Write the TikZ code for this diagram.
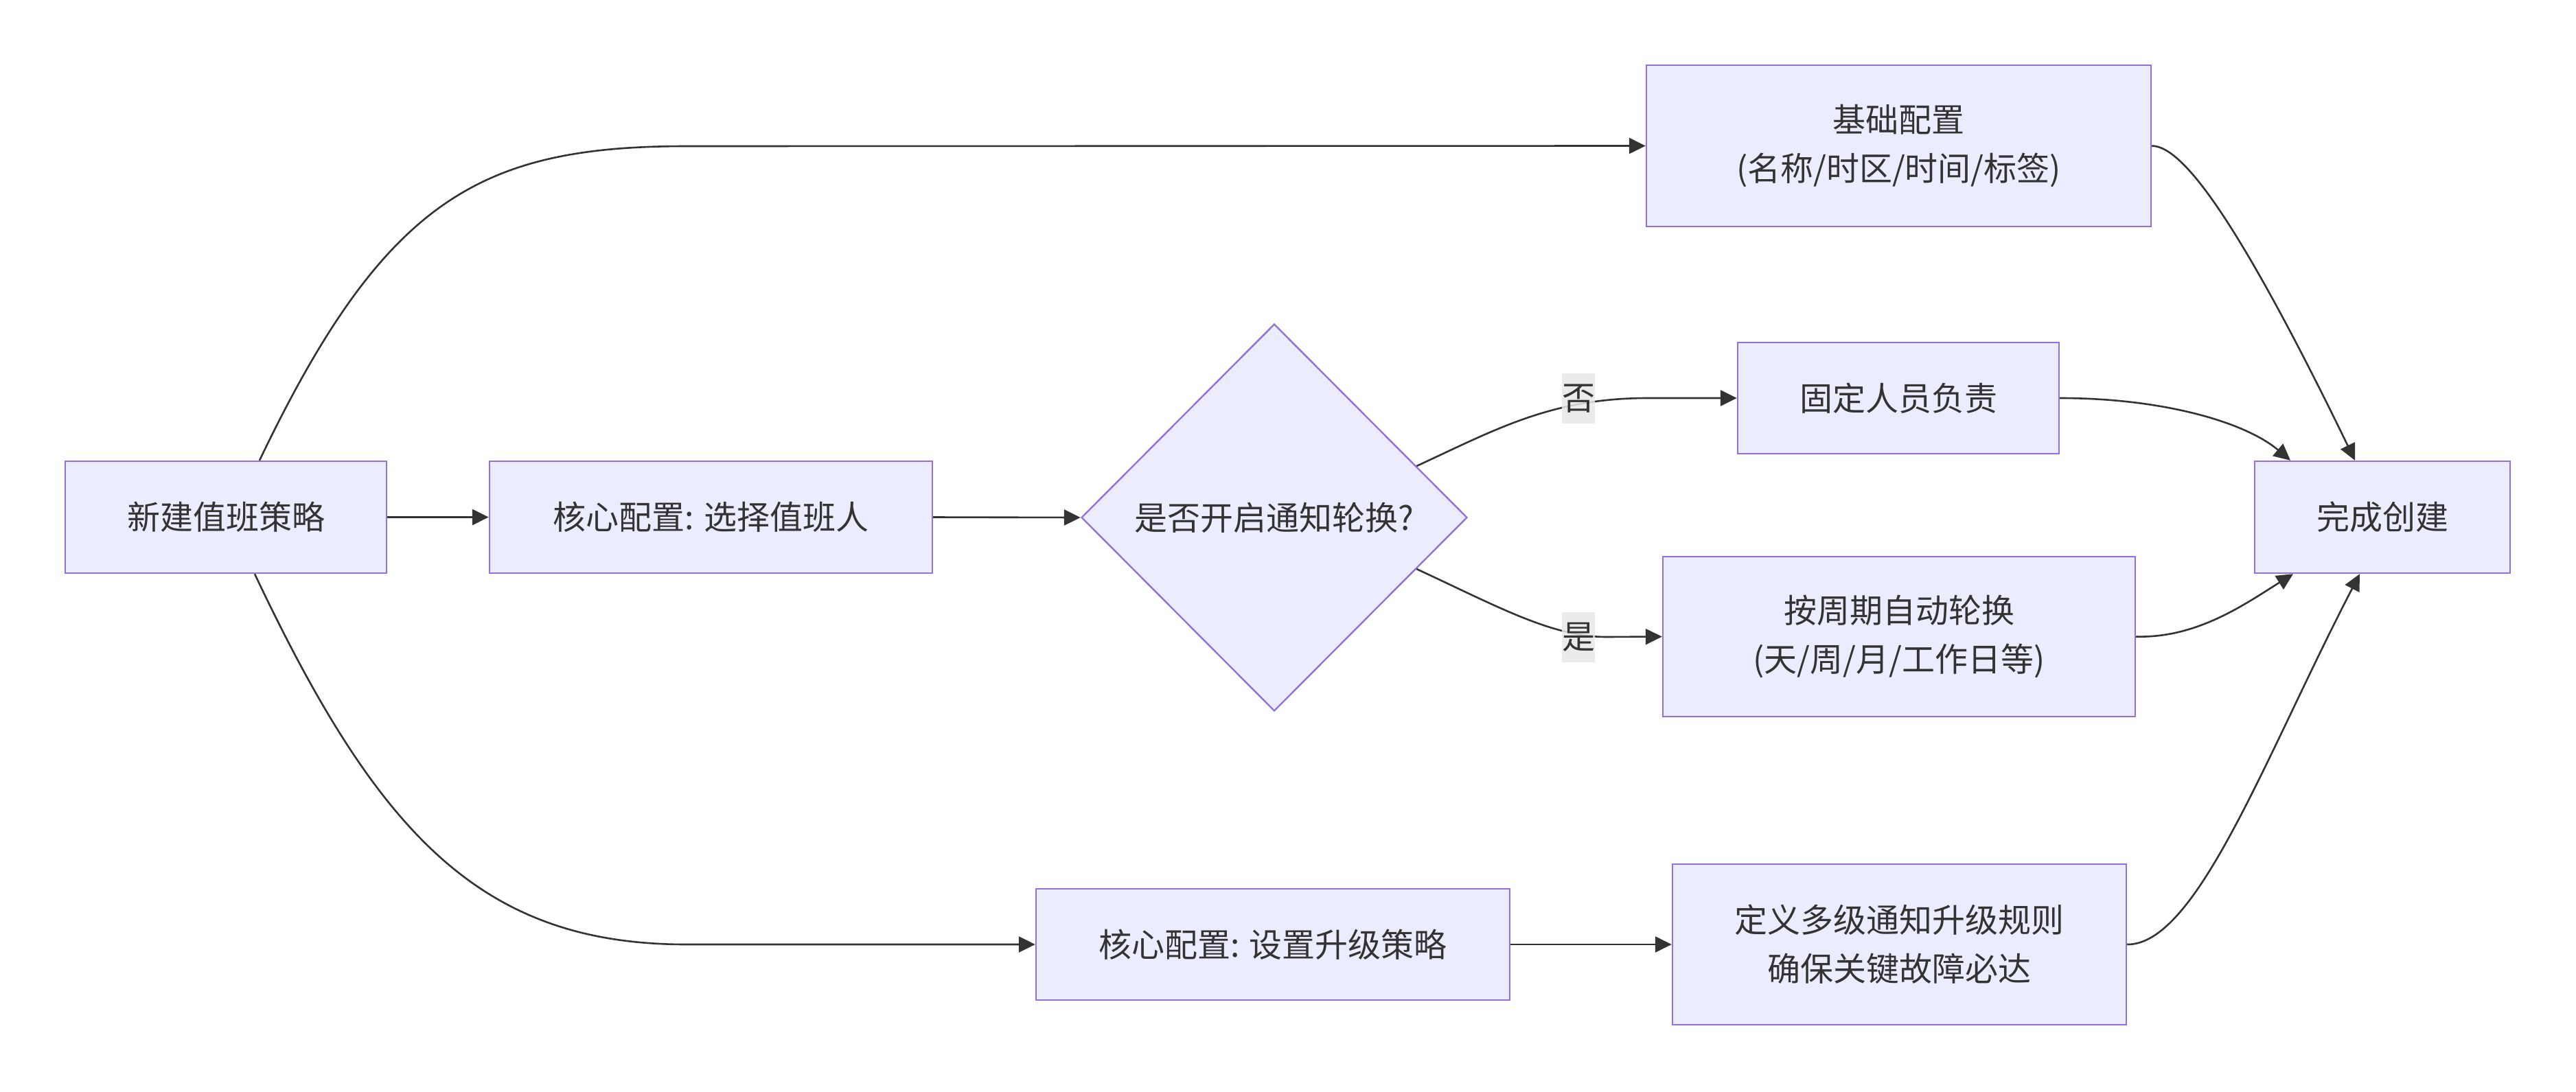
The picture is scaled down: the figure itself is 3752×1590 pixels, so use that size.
\documentclass[tikz,border=0pt]{standalone}
\usepackage{fontspec}
\setmainfont{Noto Sans CJK SC}
\usetikzlibrary{arrows.meta,shapes.geometric,calc}
\definecolor{nodefill}{HTML}{ECECFF}
\definecolor{nodeborder}{HTML}{9370DB}
\definecolor{linecol}{HTML}{333333}
\definecolor{labelbg}{HTML}{E8E8E8}
\begin{document}
\begin{tikzpicture}[x=0.5pt,y=-0.5pt,
  box/.style={draw=nodeborder, fill=nodefill, line width=1.2pt, inner sep=0pt, align=center, text=linecol, font=\fontsize{24}{35.5}\selectfont},
  dia/.style={diamond, draw=nodeborder, fill=nodefill, line width=1.2pt, inner sep=0pt, text=linecol, font=\fontsize{24}{35.5}\selectfont, minimum width=281pt, minimum height=282pt},
  link/.style={draw=linecol, line width=1.3pt, -{Triangle[length=12pt,width=11.5pt]}},
  elabel/.style={fill=labelbg, fill opacity=0.85, text opacity=1, text=linecol, inner sep=0pt, minimum width=24pt, minimum height=36.5pt, font=\fontsize{24}{30}\selectfont}
]
\useasboundingbox (0,0) rectangle (3752,1590);
% nodes
\node[box, minimum width=234pt, minimum height=81.5pt] (A) at (329,753.5) {新建值班策略};
\node[box, minimum width=322.5pt, minimum height=81.5pt] (B) at (1035.5,753.5) {核心配置: 选择值班人};
\node[dia] (Q) at (1856,754) {是否开启通知轮换?};
\node[box, minimum width=367.5pt, minimum height=117.5pt] (C) at (2765.5,212.5) {基础配置\\(名称/时区/时间/标签)};
\node[box, minimum width=234pt, minimum height=81pt] (D) at (2765,580) {固定人员负责};
\node[box, minimum width=344pt, minimum height=116.5pt] (E) at (2766,927.5) {按周期自动轮换\\(天/周/月/工作日等)};
\node[box, minimum width=186pt, minimum height=81.5pt] (F) at (3470,753.5) {完成创建};
\node[box, minimum width=345pt, minimum height=81pt] (G) at (1854,1376) {核心配置: 设置升级策略};
\node[box, minimum width=330.5pt, minimum height=117pt] (H) at (2766.5,1376) {定义多级通知升级规则\\确保关键故障必达};
% edges
\draw[link] ([xshift=24.5pt]A.north) .. controls (560,290) and (700,213) .. (1000,213) -- (C.west);
\draw[link] ([xshift=21pt]A.south) .. controls (550,1215) and (700,1376) .. (1000,1376) -- (G.west);
\draw[link] (A.east) -- (B.west);
\draw[link] (B.east) -- (Q.west);
\draw[link] ($(Q.north)!0.735!(Q.east)$) .. controls (2180,625) and (2260,580) .. (2400,580) -- (D.west);
\draw[link] ($(Q.south)!0.735!(Q.east)$) .. controls (2180,883) and (2260,928) .. (2340,928) -- (E.west);
\draw[link] (G.east) -- (H.west);
\draw[link] (C.east) .. controls (3175,213) and (3250,300) .. ([xshift=-20pt]F.north);
\draw[link] (D.east) .. controls (3150,580) and (3270,615) .. ([xshift=-67pt]F.north);
\draw[link] (E.east) .. controls (3200,930) and (3270,880) .. ([xshift=-65pt]F.south);
\draw[link] (H.east) .. controls (3200,1377) and (3300,1100) .. ([xshift=-16.5pt]F.south);
% edge labels
\node[elabel] (Lno) at (2299,580.5) {否};
\node[elabel] (Lyes) at (2299,928) {是};
\end{tikzpicture}
\end{document}
